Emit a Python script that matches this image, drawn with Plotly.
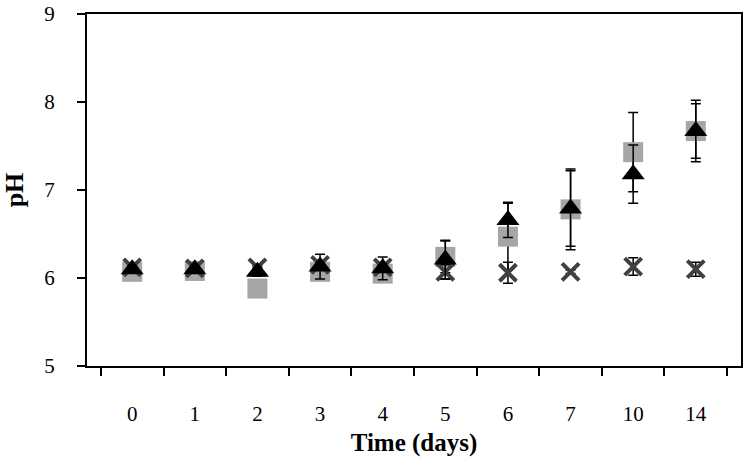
import plotly.graph_objects as go

days = ["0", "1", "2", "3", "4", "5", "6", "7", "10", "14"]

sq_vals = [6.07, 6.08, 5.88, 6.07, 6.05, 6.24, 6.47, 6.78, 7.43, 7.67]
sq_err = [0.03, 0.03, 0.03, 0.05, 0.05, 0.18, 0.38, 0.46, 0.45, 0.35]

tri_vals = [6.10, 6.10, 6.07, 6.13, 6.11, 6.21, 6.66, 6.79, 7.18, 7.67]
tri_err = [0.03, 0.03, 0.05, 0.14, 0.13, 0.22, 0.20, 0.43, 0.33, 0.31]

x_vals = [6.12, 6.11, 6.12, 6.15, 6.12, 6.07, 6.06, 6.07, 6.13, 6.10]
x_err = [0.02, 0.02, 0.02, 0.05, 0.03, 0.08, 0.12, 0.02, 0.10, 0.08]

FONT = "Liberation Serif"

def eb(arr):
    return dict(type="data", array=arr, visible=True, color="black",
                thickness=1.5, width=5)

fig = go.Figure()
fig.add_trace(go.Scatter(
    x=days, y=sq_vals, mode="markers", error_y=eb(sq_err),
    marker=dict(symbol="square", size=20, color="#a6a6a6"),
    showlegend=False))
fig.add_trace(go.Scatter(
    x=days, y=x_vals, mode="markers", error_y=eb(x_err),
    marker=dict(symbol="x-thin", size=17, color="#404040",
                line=dict(width=4, color="#404040")),
    showlegend=False))
fig.add_trace(go.Scatter(
    x=days, y=tri_vals, mode="markers", error_y=eb(tri_err),
    marker=dict(symbol="triangle-up", size=20, color="black"),
    showlegend=False))

fig.update_layout(
    width=744, height=457,
    margin=dict(l=87, r=3, t=14, b=91),
    paper_bgcolor="white", plot_bgcolor="white",
    font=dict(family=FONT, size=21, color="black"),
    xaxis=dict(
        type="category", categoryorder="array", categoryarray=days,
        automargin=False,
        showline=True, linewidth=2, linecolor="black", mirror=True,
        ticks="outside", ticklen=8, tickwidth=1.5, tickcolor="black",
        tickson="boundaries", showgrid=False, zeroline=False,
        ticklabelstandoff=28,
        title=dict(text="<b>Time (days)</b>", standoff=14,
                   font=dict(family=FONT, size=25)),
    ),
    yaxis=dict(
        range=[5, 9], dtick=1, tick0=5,
        automargin=False, ticklabeloverflow="allow",
        showline=True, linewidth=2, linecolor="black", mirror=True,
        ticks="outside", ticklen=8, tickwidth=1.5, tickcolor="black",
        showgrid=False, zeroline=False,
        ticklabelstandoff=18,
        title=dict(text="<b>pH</b>", standoff=13,
                   font=dict(family=FONT, size=26)),
    ),
)

fig.write_html("out.html", config={"displayModeBar": False},
               post_script="document.body.style.margin='0px';")
